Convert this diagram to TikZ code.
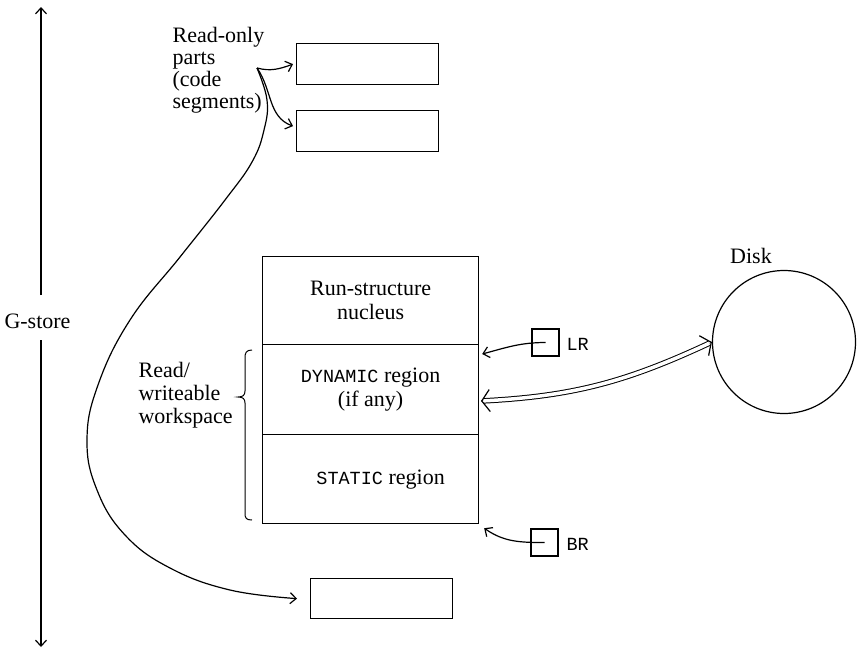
\documentclass[tikz,border=0pt]{standalone}
\usepackage{fontspec}
\setmainfont{Liberation Serif}
\setmonofont{Liberation Mono}
\usetikzlibrary{arrows.meta}
\newcommand\mytt[1]{{\fontsize{18.5}{20}\selectfont\ttfamily #1}}
\begin{document}
\begin{tikzpicture}[x=1pt,y=-1pt,line width=1.2pt,
  font=\fontsize{22}{23.5}\selectfont,
  segbox/.style={draw,minimum width=142pt,minimum height=41pt,inner sep=0,anchor=north west},
  stackbox/.style={draw,minimum width=216pt,inner sep=0,anchor=north west,align=center},
  regbox/.style={draw,minimum width=27pt,minimum height=27pt,inner sep=0},
  arr/.style={-{Straight Barb[length=6pt,width=11pt]}},
  dbl/.style={double,double distance=3.5pt,line width=1pt,shorten <=3pt,shorten >=3pt},
  dbltip/.style={line width=1.2pt,-{Straight Barb[length=8pt,width=22pt]}},
  lbl/.style={inner sep=0,align=left}]
\useasboundingbox (0,0) rectangle (859,651);
% G-store axis
\node[anchor=base,inner sep=0] (gs) at (37.5,328) {G-store};
\coordinate (gtop) at (41,7);
\coordinate (gup) at (41,295);
\coordinate (gdn) at (41,340);
\coordinate (gbot) at (41,647);
\draw[arr] (gup) -- (gtop);
\draw[arr] (gdn) -- (gbot);
% read-only parts
\node[lbl,anchor=north west,font=\fontsize{22}{22}\selectfont] (rolbl) at (172,26.5) {Read-only\\parts\\(code\\segments)};
\node[segbox] (ro1) at (296,43) {};
\node[segbox] (ro2) at (296,110) {};
\node[segbox,minimum height=40pt] (seg3) at (310,578) {};
\coordinate (ro) at (257,68);
\draw[arr] (ro) to[out=-15,in=200] ([xshift=-3pt]ro1.west);
\draw[arr] (ro) to[out=-55,in=160] ([shift={(-3pt,5pt)}]ro2.west);
\draw[arr] plot[smooth,tension=0.7] coordinates {(ro) (267,100) (264,130) (252,162) (225,200) (180,257) (130,320) (98,385) (87,440) (97,490) (125,535) (170,568) (230,590) ([xshift=-13pt]seg3.west)};
% stack
\node[stackbox,minimum height=88pt] (nuc) at (262,256) {Run-structure\\nucleus};
\node[stackbox,minimum height=90pt] (dyn) at (262,344) {\mytt{DYNAMIC} region\\(if any)};
\node[stackbox,minimum height=89pt] (stat) at (262,434) {};
\node[inner sep=0] (statlbl) at ([xshift=10pt]stat.center) {\mytt{STATIC} region};
% workspace brace
\node[lbl,anchor=north west,font=\fontsize{22}{23}\selectfont] (ws) at (138,362) {Read/\\writeable\\workspace};
\draw[line width=1pt] (252,350) .. controls (246,350) and (245,353) .. (245,358) -- (245,391) .. controls (245,395) and (243,397) .. (238,397) .. controls (243,397) and (245,399) .. (245,403) -- (245,513) .. controls (245,518) and (246,520) .. (252,520);
% registers
\node[regbox] (lr) at (545.5,342.5) {};
\node[anchor=base west,inner sep=0] (lrlbl) at (566,350) {\mytt{LR}};
\node[regbox] (br) at (544.5,542.5) {};
\node[anchor=base west,inner sep=0] (brlbl) at (566,550) {\mytt{BR}};
\draw[arr] (lr.center) to[out=180,in=15] ([shift={(3pt,-10pt)}]dyn.north east);
\draw[arr] (br.center) to[out=180,in=-35] ([shift={(5pt,-4pt)}]stat.south east);
% disk
\node[draw,circle,minimum size=143pt,inner sep=0] (disk) at (784,342) {};
\node[anchor=base,inner sep=0] (disklbl) at (751,263) {Disk};
\coordinate (dd) at (481,401);
\draw[dbl] (dd) to[out=3,in=205] (disk.west);
\draw[dbltip] ([shift={(3:0.5pt)}]dd) -- (dd);
\draw[dbltip] ([shift={(205:0.5pt)}]disk.west) -- (disk.west);
\end{tikzpicture}
\end{document}
